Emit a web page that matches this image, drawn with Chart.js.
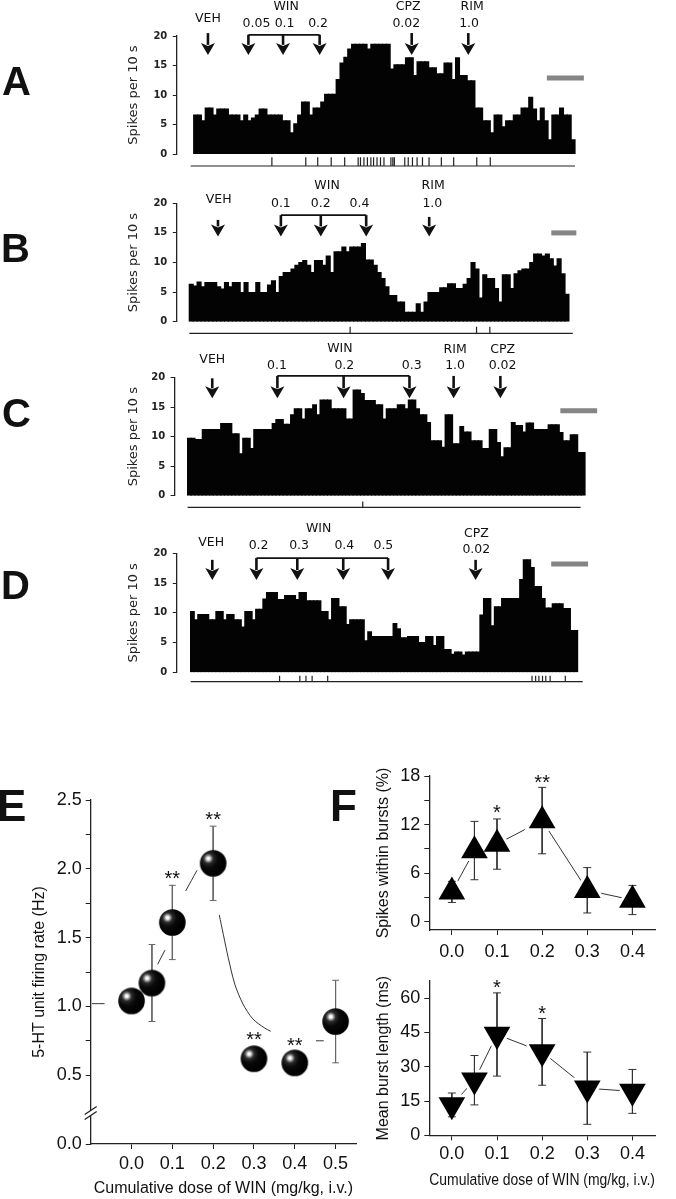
<!DOCTYPE html>
<html><head><meta charset="utf-8">
<script src="https://cdn.jsdelivr.net/npm/chart.js@4.4.1/dist/chart.umd.min.js"></script>
<style>
html,body{margin:0;padding:0;background:#fff;}
#fig{position:relative;width:676px;height:1199px;overflow:hidden;background:#fff;}
#fig canvas{position:absolute;}
.lab{position:absolute;font-family:"Liberation Sans",Arial,sans-serif;font-weight:bold;line-height:1;color:#111;}
</style></head><body>
<div id="fig">
<canvas id="cA" width="676" height="172" style="left:0;top:0"></canvas>
<canvas id="cB" width="676" height="165" style="left:0;top:175px"></canvas>
<canvas id="cC" width="676" height="172" style="left:0;top:340px"></canvas>
<canvas id="cD" width="676" height="178" style="left:0;top:512px"></canvas>
<canvas id="cE" width="370" height="439" style="left:0;top:760px"></canvas>
<canvas id="cF1" width="336" height="205" style="left:340px;top:755px"></canvas>
<canvas id="cF2" width="336" height="239" style="left:340px;top:960px"></canvas>
<div class="lab" style="left:2px;top:61px;font-size:40px">A</div>
<div class="lab" style="left:1px;top:228px;font-size:40px">B</div>
<div class="lab" style="left:2px;top:393px;font-size:40px">C</div>
<div class="lab" style="left:1px;top:565px;font-size:40px">D</div>
<div class="lab" style="left:-3px;top:784px;font-size:44px">E</div>
<div class="lab" style="left:330px;top:784px;font-size:44px">F</div>
</div>
<script>
// ================= DATA =================
// Histograms: spikes per 10 s bin
const histA = [6.6,6.6,5.6,7.8,7.8,6.6,7.6,7.6,7.6,6.6, 6.6,6.6,5.6,6.6,5.6,6.1,6.6,7.6,7.6,6.6,
  6.6,6.6,6.6,5.6,5.6,3.6,5.1,6.6,8.8,8.8, 6.6,7.8,7.8,8.8,10.1,10.1,10.1,12.6,15.4,16.4,
  17.8,18.6,18.6,18.6,18.6,17.8,18.6,18.6,18.6,18.6, 18.6,14.4,15.1,15.1,15.1,16.3,16.3,13.3,15.6,15.6,
  15.6,14.6,14.6,13.6,13.6,15.4,15.4,12.6,16.3,13.3, 13.3,12.4,12.4,7.8,7.8,5.6,5.6,3.6,6.6,6.6,
  4.6,5.6,5.6,6.6,6.6,7.8,7.8,9.6,7.6,5.6, 7.8,5.6,2.4,6.6,6.6,7.8,6.6,6.6,2.4];
const histB = [6.3,6.0,6.7,5.9,6.6,6.6,6.6,5.9,5.5,6.6,5.9,6.6,6.6,4.9,6.6,4.9,4.9,6.6,4.9,4.9,6.2,6.9,4.9,7.6,8.3,8.3,
  8.9,9.5,10.0,10.3,9.5,8.3,10.3,10.3,9.5,11.1,8.3,11.8,11.8,12.6,11.8,12.6,12.6,12.6,13.2,10.4,10.4,9.5,8.3,7.3,5.9,4.4,4.4,3.3,3.3,1.6,1.6,1.6,3.0,1.6,3.3,4.9,4.9,4.9,5.7,5.7,6.4,6.4,
  5.6,5.6,6.3,7.3,10.0,8.9,4.0,7.9,7.3,7.3,5.6,3.3,7.9,7.9,5.6,8.1,8.6,8.9,8.9,10.0,11.4,11.4,11.1,11.4,10.6,9.4,10.6,8.1,4.6];
const histC = [9.7,9.7,9.5,9.5,11.2,11.2,11.2,11.2,11.2,12.2,12.2,12.2,10.5,10.5,7.1,9.7,9.7,8.0,11.2,11.2,11.2,11.2,11.2,12.2,
  12.9,12.9,12.1,12.1,13.7,14.7,14.7,13.0,14.7,14.7,15.4,13.7,16.2,16.2,16.2,14.7,14.7,14.7,14.7,13.0,13.0,17.9,17.9,17.3,
  16.1,16.1,16.1,15.4,15.4,13.0,14.7,14.7,14.7,15.4,15.4,14.7,16.2,16.2,14.7,13.7,13.7,12.4,9.3,9.3,9.3,8.2,13.7,13.7,
  8.8,8.8,11.7,10.8,10.8,9.3,9.3,9.3,8.0,8.0,11.2,11.2,9.0,6.6,8.1,8.1,12.4,11.9,11.9,10.8,12.3,12.3,11.2,11.2,11.2,11.2,
  12.0,12.0,12.0,10.7,9.3,9.3,10.3,10.3,7.3,7.3];
const histD = [10.2,8.8,9.7,9.7,9.7,8.8,8.8,10.2,10.2,8.8,9.7,9.7,8.8,8.8,7.6,10.2,10.2,8.8,10.6,10.6,12.3,13.4,13.4,13.4,
  12.2,12.2,12.9,12.9,12.9,12.2,13.4,13.4,12.0,12.0,12.0,12.0,10.2,10.2,8.8,12.4,12.4,11.0,11.0,8.0,8.8,8.8,8.8,8.8,
  5.3,6.8,6.0,6.0,6.0,6.0,6.0,6.0,8.2,7.3,5.8,5.8,6.0,6.0,6.0,5.0,5.0,6.0,6.0,4.5,6.0,6.0,3.8,3.8,3.0,3.4,3.4,2.9,
  3.4,3.4,3.4,3.4,9.6,12.4,12.4,7.8,11.0,11.0,12.4,12.4,12.4,12.4,12.4,15.6,18.9,18.9,17.6,14.4,14.4,12.4,10.8,10.8,
  11.5,11.5,11.5,10.7,10.7,7.0,7.0];

// Raster (burst event) times, in bins
const rasterA = [20.3,29.1,32.2,35.7,39.2,42.7,43.3,44.2,45.1,46.0,46.7,47.6,48.5,49.4,51.2,51.7,52.1,54.8,55.7,56.8,58.0,59.4,61.1,64.3,67.5,73.5,77.0];
const rasterB = [41.1,73.4,76.8];
const rasterC = [47.6];
const rasterD = [24.6,30.2,31.9,33.6,37.9,94.4,95.4,96.3,97.3,98.2,99.4,103.6];
const rasterSpanA = [-0.8, 99], rasterSpanB = [0, 98], rasterSpanC = [0, 106.8], rasterSpanD = [0, 108.4];

// Injection arrows: [time(bin), top, tip]
const arrowsA = [[3.7,20.5,16.8],[14.2,20.2,16.8],[23.2,20.2,16.8],[32.7,20.2,16.8],[56.6,20.5,16.8],[71.3,20.5,16.8]];
const arrowsB = [[7.33,17.2,14.4],[23.4,18.0,14.4],[33.6,18.0,14.4],[45.2,18.0,14.4],[61.3,17.7,14.4]];
const arrowsC = [[6.7,19.9,16.5],[24.4,20.3,16.5],[42.4,20.3,16.5],[60.3,20.3,16.5],[72.3,20.3,16.5],[85.0,20.3,16.5]];
const arrowsD = [[6.0,18.9,15.5],[18.2,19.2,15.5],[29.5,19.2,15.5],[42.2,19.2,15.5],[54.6,19.2,15.5],[78.8,18.9,15.5]];
const bracketA = [14.2,32.7,20.2], bracketB = [23.4,45.2,18.0], bracketC = [24.4,60.3,20.3], bracketD = [18.2,54.6,19.2];
// Drug labels: [text, time, level]
const labelsA = [['VEH',3.7,22.9],['WIN',24.0,24.9],['0.05',16.3,22.0],['0.1',23.6,22.0],['0.2',32.3,22.0],['CPZ',55.7,24.9],['0.02',55.2,22.0],['RIM',72.3,24.9],['1.0',71.5,22.0]];
const labelsB = [['WIN',35.2,23.0],['VEH',7.5,20.6],['0.1',23.4,19.85],['0.2',33.6,19.85],['0.4',43.5,19.85],['RIM',62.3,23.0],['1.0',62.1,19.85]];
const labelsC = [['WIN',41.4,24.9],['VEH',6.7,23.0],['0.1',24.3,22.0],['0.2',42.6,22.0],['0.3',60.9,22.0],['RIM',72.7,24.8],['1.0',72.7,22.0],['CPZ',85.6,24.8],['0.02',85.6,22.0]];
const labelsD = [['WIN',35.4,24.2],['VEH',5.7,21.7],['0.2',18.8,21.2],['0.3',30.0,21.2],['0.4',42.5,21.2],['0.5',53.3,21.2],['CPZ',79.0,23.3],['0.02',79.0,20.6]];
// Time scale bars: [from, to, level]
const scaleBarA = [91.7,101.3,12.9], scaleBarB = [92.5,98.9,15.0], scaleBarC = [101.3,111.3,14.4], scaleBarD = [99.7,109.9,18.2];
const histTicks = [0,2.5,5,7.5,10,12.5,15,17.5,20];

// Panel E
const doseE = [0,0.05,0.1,0.2,0.3,0.4,0.5];
const rateE = [1.04,1.17,1.61,2.04,0.62,0.59,0.89];
const rateSemE = [0.06,0.28,0.27,0.27,0.06,0.06,0.30];
const fitDoseE = [-0.097,-0.066,null,0.064,0.082,null,0.1325,0.1605,null,0.215,0.225,0.237,0.253,0.273,0.297,0.325,0.341,null,0.452,0.471];
const fitRateE = [1.02,1.02,null,1.306,1.409,null,1.838,1.989,null,1.665,1.522,1.354,1.162,1.018,0.910,0.845,0.819,null,0.75,0.75];
const starsE = [[0.1,1.965,'**'],[0.2,2.39,'**'],[0.3,0.793,'**'],[0.4,0.75,'**']];
const breakE = [0.243,0.207];
const yTicksE = [0,0.5,0.75,1,1.25,1.5,1.75,2,2.25,2.5];
const xTicksE = [0,0.1,0.2,0.3,0.4,0.5];

// Panel F
const doseF = [0,0.05,0.1,0.2,0.3,0.4];
const burstPctF = [3.7,8.8,9.6,12.5,3.9,2.7];
const burstPctSemF = [1.3,3.6,3.1,4.1,2.8,1.8];
const burstLenF = [13.3,24.1,44.1,36.5,20.6,19.2];
const burstLenSemF = [5.2,10.8,18.2,14.6,15.8,9.6];
const starsF1 = [[0.1,14.0,'*'],[0.2,17.7,'**']];
const starsF2 = [[0.1,66.5,'*'],[0.2,55.4,'*']];
const yTicksF1 = [0,3,6,9,12,15,18];
const yTicksF2 = [0,7.5,15,22.5,30,37.5,45,52.5,60];
const xTicksF = [0,0.05,0.1,0.15,0.2,0.25,0.3,0.35,0.4,0.45];
const xTitle = 'Cumulative dose of WIN (mg/kg, i.v.)';

// ================= DRAWING =================
Chart.defaults.font.family = '"Liberation Sans", Arial, sans-serif';
Chart.defaults.color = '#111';
const deco = {};
Chart.register({
  id: 'figDecor',
  afterDatasetsDraw(chart) {
    const a = deco[chart.canvas.id]; if (!a) return;
    const ctx = chart.ctx, xs = chart.scales.x, ys = chart.scales.y;
    const X = v => xs.getPixelForValue(v), Y = v => ys.getPixelForValue(v);
    ctx.save();
    ctx.strokeStyle = '#111'; ctx.fillStyle = '#111';
    if (a.bracket) {
      ctx.lineWidth = 1.7; ctx.beginPath();
      ctx.moveTo(X(a.bracket[0]), Y(a.bracket[2])); ctx.lineTo(X(a.bracket[1]), Y(a.bracket[2])); ctx.stroke();
    }
    (a.arrows || []).forEach(r => {
      const px = X(r[0]), y0 = Y(r[1]), y1 = Y(r[2]), hh = 12, hw = 7;
      ctx.lineWidth = 2.6; ctx.beginPath(); ctx.moveTo(px, y0); ctx.lineTo(px, y1 - hh + 2); ctx.stroke();
      ctx.beginPath(); ctx.moveTo(px - hw, y1 - hh); ctx.lineTo(px, y1 - hh + 3); ctx.lineTo(px + hw, y1 - hh); ctx.lineTo(px, y1); ctx.closePath(); ctx.fill();
    });
    if (a.labels) {
      ctx.fillStyle = '#111'; ctx.font = '12.5px "DejaVu Sans", sans-serif'; ctx.textAlign = 'center'; ctx.textBaseline = 'middle';
      a.labels.forEach(l => ctx.fillText(l[0], X(l[1]), Y(l[2])));
    }
    if (a.stars) {
      ctx.fillStyle = '#111'; ctx.font = '20px "Liberation Sans", Arial'; ctx.textAlign = 'center'; ctx.textBaseline = 'alphabetic';
      a.stars.forEach(s => ctx.fillText(s[2], X(s[0]), Y(s[1]) + 11));
    }
    if (a.breaks) {
      const ax = chart.chartArea.left, yb1 = Y(a.breaks[0]), yb2 = Y(a.breaks[1]);
      ctx.fillStyle = '#fff';
      ctx.beginPath(); ctx.moveTo(ax - 6, yb1 + 4); ctx.lineTo(ax + 6, yb1 - 4); ctx.lineTo(ax + 6, yb2 - 4); ctx.lineTo(ax - 6, yb2 + 4); ctx.closePath(); ctx.fill();
      ctx.strokeStyle = '#222'; ctx.lineWidth = 1.3;
      [yb1, yb2].forEach(yy => { ctx.beginPath(); ctx.moveTo(ax - 6, yy + 4); ctx.lineTo(ax + 6, yy - 4); ctx.stroke(); });
    }
    ctx.restore();
  }
});

const baseOpts = { responsive: false, animation: false, events: [], plugins: { legend: { display: false }, tooltip: { enabled: false } } };

function rasterData(times, lo, hi) {
  const out = [];
  times.forEach(t => { out.push({ x: t, y: lo }, { x: t, y: hi }, { x: t, y: null }); });
  return out;
}

function histChart(id, L, values, raster, rasterSpan, arrows, bracket, labels, scaleBar) {
  const bw = (L.barsRight - L.barsLeft) / values.length;
  const xMin = -(L.barsLeft - L.axisX) / bw;
  const chartRight = L.axisX + (L.xMax - xMin) * bw;
  deco[id] = { arrows, bracket, labels };
  return new Chart(document.getElementById(id), {
    type: 'bar',
    data: { datasets: [
      { type: 'bar', data: values.map((v, i) => ({ x: i + 0.5, y: v })), backgroundColor: '#030303', borderWidth: 0, inflateAmount: 0.6, barPercentage: 1, categoryPercentage: 1, grouped: false, order: 4 },
      { type: 'line', data: [{ x: rasterSpan[0], y: L.rasterLine }, { x: rasterSpan[1], y: L.rasterLine }], borderColor: '#222', borderWidth: 1.2, pointRadius: 0, clip: false, order: 2 },
      { type: 'line', data: rasterData(raster, L.rasterLine, L.rasterTop), borderColor: '#222', borderWidth: 1.2, pointRadius: 0, spanGaps: false, clip: false, order: 1 },
      { type: 'line', data: [{ x: scaleBar[0], y: scaleBar[2] }, { x: scaleBar[1], y: scaleBar[2] }], borderColor: '#858585', borderWidth: 5, borderCapStyle: 'butt', pointRadius: 0, clip: false, order: 0 }
    ] },
    options: Object.assign({}, baseOpts, {
      layout: { padding: { left: 0, top: L.chartTop - L.top, bottom: L.top + L.height - L.chartBottom, right: 676 - chartRight } },
      scales: {
        x: { type: 'linear', min: xMin, max: L.xMax, offset: false, display: false },
        y: { type: 'linear', min: 0, max: 20,
          afterBuildTicks: s => { s.ticks = histTicks.map(v => ({ value: v })); },
          afterFit: s => { s.width = L.axisX; },
          ticks: { font: { family: '"DejaVu Sans", sans-serif', size: 10, weight: 'bold' }, color: '#222', padding: 5.5,
            callback: v => (v % 5 === 0 ? String(v) : '') },
          grid: { drawOnChartArea: false, drawTicks: true, tickLength: 4, color: '#222', lineWidth: 1 },
          border: { color: '#222', width: 1.3 },
          title: { display: true, text: 'Spikes per 10 s', font: { family: '"DejaVu Sans", sans-serif', size: 13 }, color: '#222', padding: { top: 126, bottom: 0 } } }
      }
    })
  });
}

histChart('cA', { top: 0, height: 172, axisX: 176.8, barsLeft: 193.7, barsRight: 575, xMax: 103, chartTop: 36, chartBottom: 154, rasterLine: -2.03, rasterTop: -0.56 },
  histA, rasterA, rasterSpanA, arrowsA, bracketA, labelsA, scaleBarA);
histChart('cB', { top: 175, height: 165, axisX: 176.8, barsLeft: 189.3, barsRight: 568.9, xMax: 100, chartTop: 203.3, chartBottom: 321.7, rasterLine: -1.96, rasterTop: -0.84 },
  histB, rasterB, rasterSpanB, arrowsB, bracketB, labelsB, scaleBarB);
histChart('cC', { top: 340, height: 172, axisX: 174.6, barsLeft: 187.6, barsRight: 585, xMax: 112, chartTop: 377.7, chartBottom: 495.7, rasterLine: -1.97, rasterTop: -1.0 },
  histC, rasterC, rasterSpanC, arrowsC, bracketC, labelsC, scaleBarC);
histChart('cD', { top: 512, height: 178, axisX: 176.8, barsLeft: 190.6, barsRight: 577.6, xMax: 110.5, chartTop: 553.3, chartBottom: 672.3, rasterLine: -1.58, rasterTop: -0.57 },
  histD, rasterD, rasterSpanD, arrowsD, bracketD, labelsD, scaleBarD);

// ---- helpers for E/F ----
function errData(xs, ms, es) {
  const out = [];
  xs.forEach((x, i) => { out.push({ x, y: ms[i] + es[i] }, { x, y: ms[i] - es[i] }, { x, y: null }); });
  return out;
}
function sphere(r) {
  const s = Math.ceil(2 * r + 2), c = document.createElement('canvas'); c.width = c.height = s;
  const g = c.getContext('2d'), cx = s / 2, cy = s / 2, hx = cx - r * 0.36, hy = cy - r * 0.36;
  const gr = g.createRadialGradient(hx, hy, 0, hx, hy, r * 1.25);
  gr.addColorStop(0, '#ffffff'); gr.addColorStop(0.09, '#f4f4f4'); gr.addColorStop(0.17, '#9a9a9a');
  gr.addColorStop(0.3, '#2a2a2a'); gr.addColorStop(0.55, '#0a0a0a'); gr.addColorStop(1, '#000');
  g.fillStyle = gr; g.beginPath(); g.arc(cx, cy, r, 0, Math.PI * 2); g.fill();
  return c;
}
const axisFont = { family: '"Liberation Sans", Arial', size: 18 };
const titleFont = { family: '"Liberation Sans", Arial', size: 16 };
const gridOpt = { drawOnChartArea: false, drawTicks: true, tickLength: 5, color: '#222', lineWidth: 1 };
const borderOpt = { color: '#222', width: 1.3 };

// ---- Panel E ----
deco['cE'] = { stars: starsE, breaks: breakE };
new Chart(document.getElementById('cE'), {
  type: 'line',
  data: { datasets: [
    { data: fitDoseE.map((x, i) => ({ x: x === null ? 0 : x, y: fitRateE[i] })), borderColor: '#333', borderWidth: 1, pointRadius: 0, tension: 0.3, spanGaps: false, order: 3 },
    { data: errData(doseE, rateE, rateSemE), borderColor: '#666', borderWidth: 1, pointStyle: 'line', pointRadius: 3.4, pointBorderColor: '#666', pointBorderWidth: 1, spanGaps: false, order: 2 },
    { data: doseE.map((x, i) => ({ x, y: rateE[i] })), showLine: false, pointStyle: sphere(13.3), pointRadius: 13, order: 0 }
  ] },
  options: Object.assign({}, baseOpts, {
    layout: { padding: { left: 0, top: 40, right: 10, bottom: 0 } },
    scales: {
      x: { type: 'linear', min: -0.1, max: 0.55,
        afterBuildTicks: s => { s.ticks = xTicksE.map(v => ({ value: v })); },
        afterFit: s => { s.height = 55; },
        ticks: { font: axisFont, color: '#111', padding: 4, maxRotation: 0, callback: v => v.toFixed(1) },
        grid: gridOpt, border: borderOpt,
        title: { display: true, text: xTitle, font: titleFont, color: '#111', padding: { top: 0, bottom: 1 } } },
      y: { type: 'linear', min: 0, max: 2.5,
        afterBuildTicks: s => { s.ticks = yTicksE.map(v => ({ value: v })); },
        afterFit: s => { s.width = 90.7; },
        ticks: { font: axisFont, color: '#111', padding: 4, callback: v => (Math.abs(v * 2 - Math.round(v * 2)) < 1e-9 ? v.toFixed(1) : '') },
        grid: gridOpt, border: borderOpt,
        title: { display: true, text: '5-HT unit firing rate (Hz)', font: titleFont, color: '#111', padding: { top: 30, bottom: 0 } } }
    }
  })
});

// ---- Panel F ----
function fChart(id, L, means, sems, stars, rotation, yTicks, yLabelStep, yMin, yMax, yTitle, showXTitle) {
  deco[id] = { stars };
  return new Chart(document.getElementById(id), {
    type: 'line',
    data: { datasets: [
      { data: doseF.map((x, i) => ({ x, y: means[i] })), borderColor: '#333', borderWidth: 1, pointRadius: 0, order: 3 },
      { data: doseF.map((x, i) => ({ x, y: means[i] })), showLine: false, pointStyle: 'triangle', pointRotation: rotation, pointRadius: 21, pointBackgroundColor: '#fff', pointBorderWidth: 0, order: 2 },
      { data: errData(doseF, means, sems), borderColor: '#333', borderWidth: 1, pointStyle: 'line', pointRadius: 4, pointBorderColor: '#333', pointBorderWidth: 1, spanGaps: false, order: 1 },
      { data: doseF.map((x, i) => ({ x, y: means[i] })), showLine: false, pointStyle: 'triangle', pointRotation: rotation, pointRadius: 15.4, pointBackgroundColor: '#000', pointBorderColor: '#000', pointBorderWidth: 0, order: 0 }
    ] },
    options: Object.assign({}, baseOpts, {
      layout: { padding: { left: 0, top: L.padTop, right: 16, bottom: 0 } },
      scales: {
        x: { type: 'linear', min: -0.05, max: 0.45,
          afterBuildTicks: s => { s.ticks = xTicksF.map(v => ({ value: v })); },
          afterFit: s => { s.height = L.xHeight; },
          ticks: { font: axisFont, color: '#111', padding: L.xPad, maxRotation: 0, callback: v => (Math.abs(v * 10 - Math.round(v * 10)) < 1e-9 ? v.toFixed(1) : '') },
          grid: gridOpt, border: borderOpt,
          title: { display: showXTitle, text: xTitle, font: titleFont, color: '#111', padding: { top: 0, bottom: 9 } } },
        y: { type: 'linear', min: yMin, max: yMax,
          afterBuildTicks: s => { s.ticks = yTicks.map(v => ({ value: v })); },
          afterFit: s => { s.width = 89.3; },
          ticks: { font: axisFont, color: '#111', padding: 4, callback: v => (v % yLabelStep === 0 ? String(v) : '') },
          grid: gridOpt, border: borderOpt,
          title: { display: true, text: yTitle, font: titleFont, color: '#111', padding: { top: 34, bottom: 0 } } }
      }
    })
  });
}
fChart('cF1', { padTop: 12.7, xHeight: 30, xPad: 6 }, burstPctF, burstPctSemF, starsF1, 0, yTicksF1, 6, -1, 18, 'Spikes within bursts (%)', false);
fChart('cF2', { padTop: 13.3, xHeight: 63.7, xPad: 3 }, burstLenF, burstLenSemF, starsF2, 180, yTicksF2, 15, 0, 67.5, 'Mean burst length (ms)', true);
</script>
</body></html>
